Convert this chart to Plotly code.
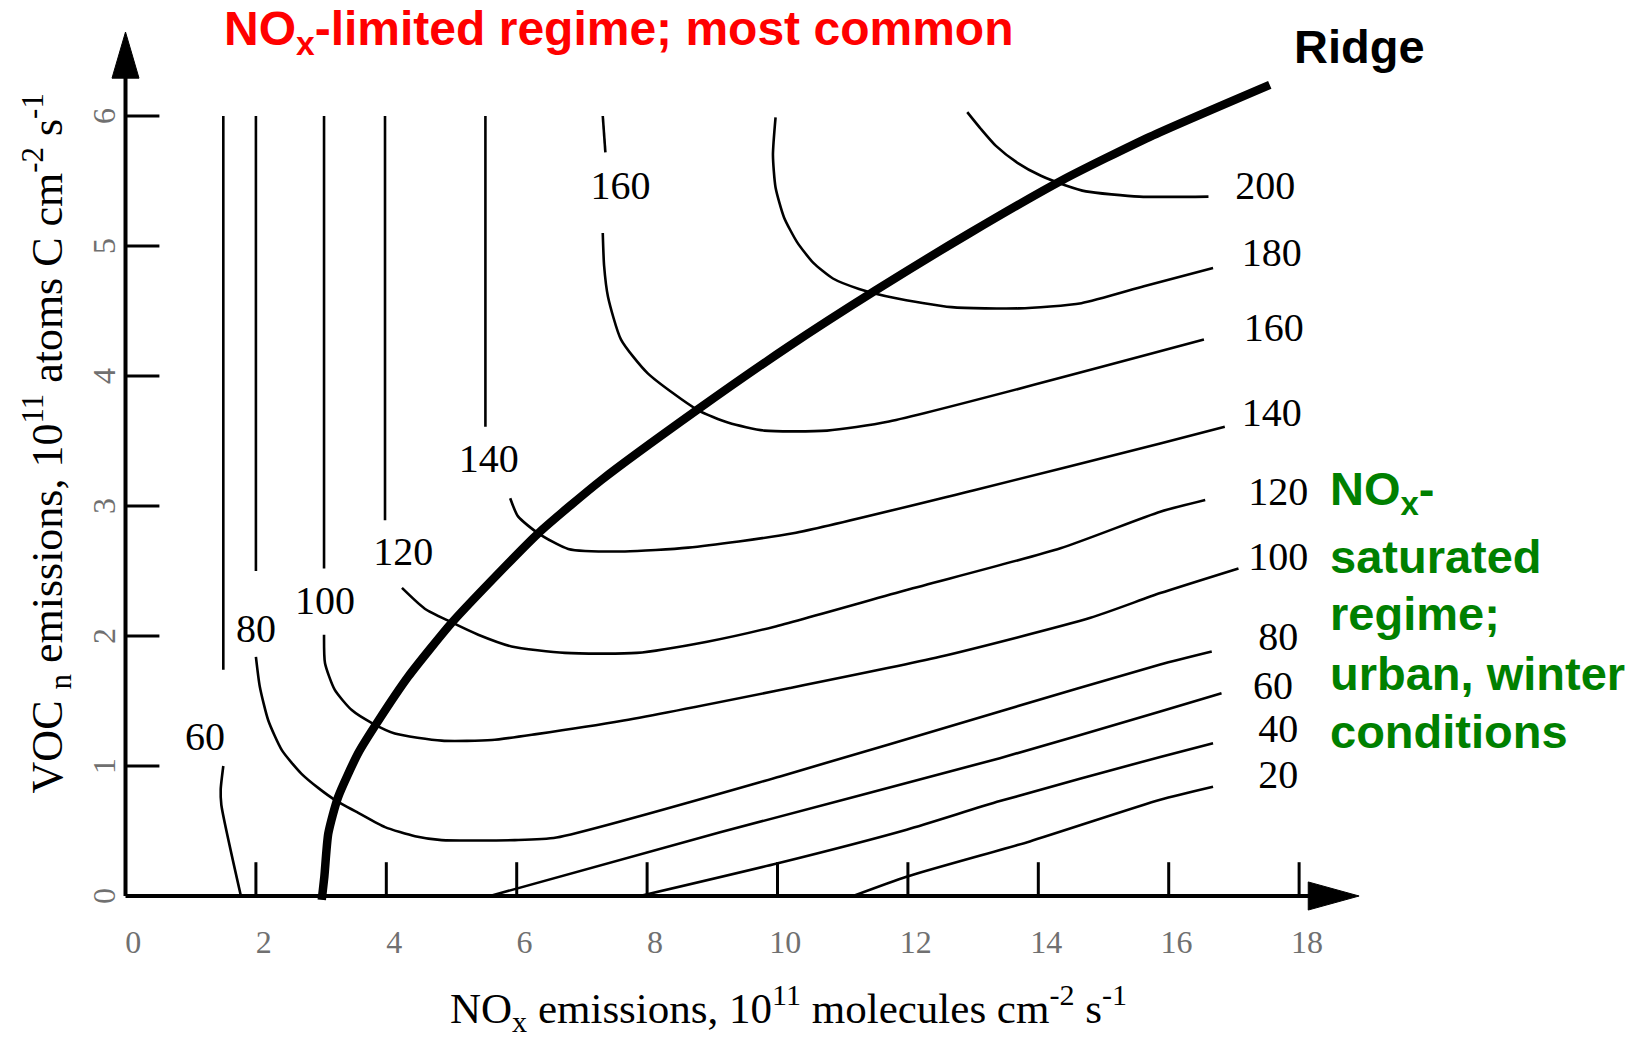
import plotly.graph_objects as go

# ------------------------------------------------------------------
# Ozone isopleths (ppb) versus NOx and VOC emission rates
# x: NOx emissions (1e11 molecules cm-2 s-1), y: VOC emissions (1e11 atoms C cm-2 s-1)
# ------------------------------------------------------------------

# axis ticks and labels
X_TICKS = [2, 4, 6, 8, 10, 12, 14, 16, 18]
Y_TICKS = [1, 2, 3, 4, 5, 6]
X_TICK_LABELS = ["0", "2", "4", "6", "8", "10", "12", "14", "16", "18"]
X_TICK_LABEL_POS = [0, 2, 4, 6, 8, 10, 12, 14, 16, 18]
Y_TICK_LABELS = ["0", "1", "2", "3", "4", "5", "6"]
Y_TICK_LABEL_POS = [0, 1, 2, 3, 4, 5, 6]

# axis extents
X_AXIS_END = 18.92
Y_AXIS_END = 6.646

# isopleth 60 ppb (NOx-limited branch): upper vertical part, gap for label, lower part
o3_60a_x = [1.50, 1.50, None, 1.50, 1.46, 1.47, 1.77]
o3_60a_y = [6.00, 1.74, None, 1.00, 0.82, 0.70, 0.00]

# isopleth 80 ppb
o3_80_x = [2.00, 2.00, None, 2.00, 2.06, 2.19, 2.40, 2.70, 2.96, 3.21, 3.57, 3.98,
           4.44, 4.85, 5.97, 6.61, 10.04, 13.41, 15.87, 16.66]
o3_80_y = [6.00, 2.50, None, 1.84, 1.61, 1.35, 1.12, 0.94, 0.83, 0.74, 0.64, 0.53,
           0.46, 0.43, 0.43, 0.45, 0.92, 1.42, 1.78, 1.88]

# isopleth 100 ppb
o3_100_x = [3.045, 3.045, None, 3.045, 3.06, 3.21, 3.47, 3.78, 4.13, 4.85, 5.62, 6.30,
            7.64, 10.19, 12.49, 14.80, 15.87, 17.07]
o3_100_y = [6.00, 2.52, None, 2.01, 1.79, 1.585, 1.43, 1.33, 1.25, 1.195, 1.20, 1.245,
            1.35, 1.60, 1.84, 2.14, 2.33, 2.52]

# isopleth 120 ppb
o3_120_x = [3.98, 3.98, None, 4.24, 4.59, 4.98, 5.41, 5.92, 6.74, 7.84, 8.92, 9.94,
            11.98, 14.34, 15.87, 16.56]
o3_120_y = [6.00, 2.89, None, 2.37, 2.21, 2.11, 2.01, 1.92, 1.87, 1.87, 1.956, 2.07,
            2.354, 2.675, 2.956, 3.046]

# isopleth 140 ppb
o3_140_x = [5.52, 5.52, None, 5.90, 6.02, 6.33, 6.79, 7.66, 8.63, 10.24, 13.00, 15.87, 16.86]
o3_140_y = [6.00, 3.61, None, 3.06, 2.92, 2.79, 2.67, 2.65, 2.68, 2.79, 3.12, 3.48, 3.61]

# isopleth 160 ppb
o3_160_x = [7.32, 7.36, None, 7.32, 7.34, 7.40, 7.60, 8.01, 8.77, 9.25, 9.80, 10.76,
            11.71, 16.54]
o3_160_y = [6.00, 5.72, None, 5.10, 4.85, 4.61, 4.28, 4.02, 3.74, 3.64, 3.58, 3.58,
            3.65, 4.28]

# isopleth 180 ppb
o3_180_x = [9.97, 9.93, 9.97, 10.10, 10.30, 10.55, 10.85, 11.25, 11.80, 12.67, 13.70,
            14.66, 15.62, 16.68]
o3_180_y = [5.99, 5.70, 5.45, 5.22, 5.03, 4.87, 4.75, 4.67, 4.60, 4.53, 4.52,
            4.56, 4.69, 4.83]

# isopleth 200 ppb
o3_200_x = [12.91, 13.12, 13.35, 13.68, 14.04, 14.40, 14.73, 15.55, 16.61]
o3_200_y = [6.03, 5.90, 5.77, 5.64, 5.54, 5.47, 5.42, 5.38, 5.38]

# NOx-saturated branches of the 60, 40 and 20 ppb isopleths
o3_60b_x = [5.59, 9.12, 13.41, 15.87, 16.81]
o3_60b_y = [0.00, 0.49, 1.06, 1.42, 1.56]
o3_40_x = [7.89, 9.99, 11.98, 13.41, 15.87, 16.68]
o3_40_y = [0.00, 0.25, 0.51, 0.73, 1.07, 1.175]
o3_20_x = [11.16, 11.99, 13.87, 15.87, 16.68]
o3_20_y = [0.00, 0.15, 0.42, 0.74, 0.84]

# ridge line separating the two regimes
ridge_x = [3.01, 3.05, 3.11, 3.26, 3.57, 3.88, 4.34, 5.00, 5.62, 6.33, 7.30, 8.77,
           10.15, 11.51, 12.95, 14.38, 15.71, 17.55]
ridge_y = [-0.03, 0.15, 0.48, 0.76, 1.10, 1.35, 1.69, 2.10, 2.43, 2.79, 3.20, 3.74,
           4.22, 4.66, 5.10, 5.51, 5.84, 6.24]

# isopleth labels
left_labels = ["60", "80", "100", "120", "140", "160"]
left_label_x = [1.22, 2.00, 3.06, 4.26, 5.57, 7.59]
left_label_y = [1.20, 2.03, 2.25, 2.62, 3.34, 5.44]
right_labels = ["200", "180", "160", "140", "120", "100", "80", "60", "40", "20"]
right_label_x = [17.48, 17.58, 17.61, 17.58, 17.68, 17.68, 17.68, 17.60, 17.68, 17.68]
right_label_y = [5.44, 4.92, 4.35, 3.69, 3.085, 2.585, 1.97, 1.59, 1.26, 0.905]

SERIF = "Liberation Serif, Times New Roman, serif"
SANS = "Liberation Sans, Arial, Helvetica, sans-serif"
TICK_GREY = "#707070"

fig = go.Figure()


def add_line(xs, ys, width=2.6, shape="spline"):
    fig.add_trace(go.Scatter(
        x=xs, y=ys, mode="lines",
        line=dict(color="black", width=width, shape=shape, smoothing=0.6),
        hoverinfo="skip", showlegend=False, connectgaps=False,
    ))


# isopleths
for xs, ys in [(o3_60a_x, o3_60a_y), (o3_80_x, o3_80_y), (o3_100_x, o3_100_y),
               (o3_120_x, o3_120_y), (o3_140_x, o3_140_y), (o3_160_x, o3_160_y),
               (o3_180_x, o3_180_y), (o3_200_x, o3_200_y), (o3_60b_x, o3_60b_y),
               (o3_40_x, o3_40_y), (o3_20_x, o3_20_y)]:
    add_line(xs, ys)

# ridge
add_line(ridge_x, ridge_y, width=8.5)

# axes lines
add_line([0, 0], [0, Y_AXIS_END - 0.3], width=4, shape="linear")
add_line([0, X_AXIS_END - 0.7], [0, 0], width=4, shape="linear")

# tick marks (drawn inside, like the original figure)
xt_x, xt_y = [], []
for t in X_TICKS:
    xt_x += [t, t, None]
    xt_y += [0, 0.26, None]
yt_x, yt_y = [], []
for t in Y_TICKS:
    yt_x += [0, 0.52, None]
    yt_y += [t, t, None]
add_line(xt_x, xt_y, width=3, shape="linear")
add_line(yt_x, yt_y, width=3, shape="linear")

# arrow heads
fig.add_trace(go.Scatter(
    x=[0, -0.207, 0.207, 0], y=[Y_AXIS_END, Y_AXIS_END - 0.355, Y_AXIS_END - 0.355, Y_AXIS_END],
    mode="lines", fill="toself", fillcolor="black", line=dict(color="black", width=1),
    hoverinfo="skip", showlegend=False))
fig.add_trace(go.Scatter(
    x=[X_AXIS_END, X_AXIS_END - 0.78, X_AXIS_END - 0.78, X_AXIS_END], y=[0, 0.108, -0.108, 0],
    mode="lines", fill="toself", fillcolor="black", line=dict(color="black", width=1),
    hoverinfo="skip", showlegend=False))

# isopleth labels
fig.add_trace(go.Scatter(
    x=left_label_x + right_label_x, y=left_label_y + right_label_y,
    text=left_labels + right_labels, mode="text", textposition="middle center",
    textfont=dict(family=SERIF, size=40, color="black"),
    hoverinfo="skip", showlegend=False))

# x tick labels
fig.add_trace(go.Scatter(
    x=[p + 0.12 for p in X_TICK_LABEL_POS], y=[-0.377] * len(X_TICK_LABEL_POS),
    text=X_TICK_LABELS, mode="text", textposition="middle center",
    textfont=dict(family=SERIF, size=32, color=TICK_GREY),
    hoverinfo="skip", showlegend=False))

annotations = []
# y tick labels (rotated like the axis title)
for lab, pos in zip(Y_TICK_LABELS, Y_TICK_LABEL_POS):
    annotations.append(dict(
        x=-0.33, y=pos, text=lab, showarrow=False, textangle=-90,
        xanchor="center", yanchor="middle",
        font=dict(family=SERIF, size=32, color=TICK_GREY)))

# axis titles
annotations.append(dict(
    x=4.95, y=-0.865, xanchor="left", yanchor="middle", showarrow=False,
    text="NO<sub>x</sub> emissions, 10<sup>11</sup> molecules cm<sup>-2</sup> s<sup>-1</sup>",
    font=dict(family=SERIF, size=43, color="black")))
annotations.append(dict(
    x=-1.207, y=3.48, xanchor="center", yanchor="middle", showarrow=False, textangle=-90,
    text="VOC <sub>n</sub> emissions, 10<sup>11</sup> atoms C cm<sup>-2</sup> s<sup>-1</sup>",
    font=dict(family=SERIF, size=44, color="black")))

# regime annotations
annotations.append(dict(
    x=1.476, y=6.65, xanchor="left", yanchor="middle", showarrow=False,
    text="<b>NO<sub>x</sub>-limited regime; most common</b>",
    font=dict(family=SANS, size=48, color="#ff0000")))
annotations.append(dict(
    x=18.93, y=6.533, xanchor="center", yanchor="middle", showarrow=False,
    text="<b>Ridge</b>", font=dict(family=SANS, size=47, color="black")))

green_lines = ["NO<sub>x</sub>-", "saturated", "regime;", "urban, winter", "conditions"]
green_y = [3.11, 2.608, 2.171, 1.71, 1.262]
for txt, yy in zip(green_lines, green_y):
    annotations.append(dict(
        x=18.44, y=yy, xanchor="left", yanchor="middle", showarrow=False,
        text="<b>" + txt + "</b>", font=dict(family=SANS, size=47, color="#008000")))

fig.update_layout(
    width=1639, height=1037,
    margin=dict(l=0, r=0, t=0, b=0, pad=0),
    paper_bgcolor="white", plot_bgcolor="white",
    xaxis=dict(range=[-1.925, 23.213], visible=False, fixedrange=True),
    yaxis=dict(range=[-1.0846, 6.8923], visible=False, fixedrange=True),
    annotations=annotations,
    hovermode=False,
    showlegend=False,
)

fig.write_html("out.html")
